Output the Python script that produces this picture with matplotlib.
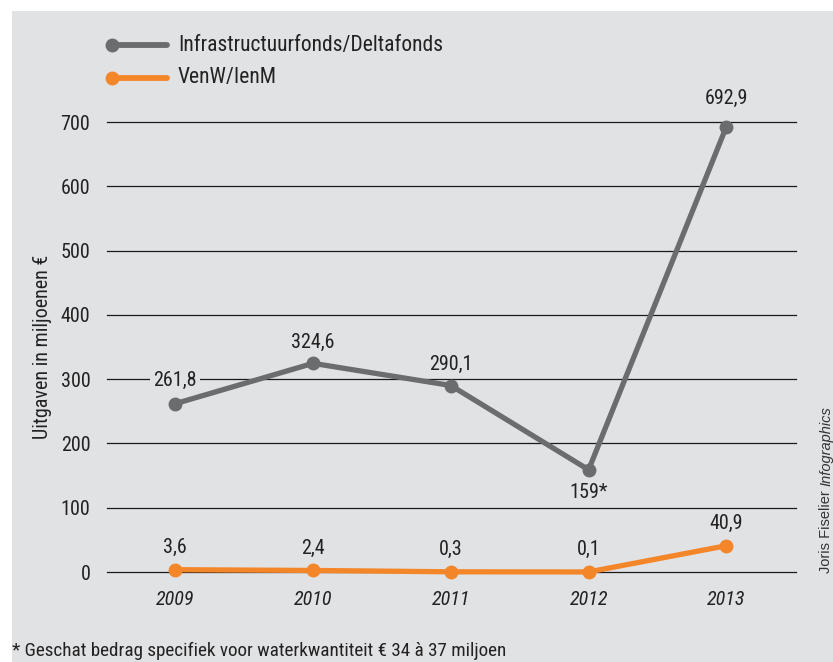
import matplotlib.pyplot as plt
from matplotlib.lines import Line2D
from matplotlib.patches import Rectangle

plt.rcParams['font.family'] = ['Roboto Condensed', 'DejaVu Sans']

years = ['2009', '2010', '2011', '2012', '2013']
infra = [261.8, 324.6, 290.1, 159, 692.9]
venw = [3.6, 2.4, 0.3, 0.1, 40.9]
infra_labels = ['261,8', '324,6', '290,1', '159*', '692,9']
venw_labels = ['3,6', '2,4', '0,3', '0,1', '40,9']

bg = '#e1e2e4'
grey = '#6b6c6e'
orange = '#f4862a'
W, H = 833, 662

fig = plt.figure(figsize=(8.33, 6.62), dpi=100)
fig.patch.set_facecolor('white')
# grey panel
fig.add_artist(Rectangle((12 / W, 0), 1, 1 - 11 / H, transform=fig.transFigure,
                         facecolor=bg, edgecolor='none', zorder=0))

ax = fig.add_axes([107 / W, 1 - 572 / H, (796 - 107) / W, (572 - 122) / H])
ax.set_facecolor('none')
for s in ax.spines.values():
    s.set_visible(False)

x = list(range(len(years)))
ax.set_xlim(-0.495, 4.505)
ax.set_ylim(0, 700)
ax.set_yticks(range(0, 701, 100))
ax.yaxis.grid(True, color='#1a1a1a', lw=0.9)
for gl in ax.get_ygridlines():
    gl.set_clip_on(False)
ax.set_axisbelow(True)
ax.tick_params(length=0, labelsize=14.5, colors='#222222')
ax.tick_params(axis='y', pad=12)
ax.tick_params(axis='x', pad=13)
ax.set_xticks(x)
ax.set_xticklabels(years, fontstyle='italic')
ax.set_ylabel('Uitgaven in miljoenen €', fontsize=14.5, color='#222222', labelpad=6)

ax.plot(x, infra, color=grey, lw=3.8, marker='o', ms=9, clip_on=False, zorder=3)
ax.plot(x, venw, color=orange, lw=3.8, marker='o', ms=9, clip_on=False, zorder=3)

infra_off = [17, 15, 15, -16, 20]
for xi, v, lab, off in zip(x, infra, infra_labels, infra_off):
    ax.annotate(lab, (xi, v), xytext=(0, off), textcoords='offset points',
                ha='center', va='center', fontsize=14.5, color='#222222',
                bbox=dict(boxstyle='square,pad=0.15', fc=bg, ec='none'), zorder=4)
for xi, v, lab in zip(x, venw, venw_labels):
    ax.annotate(lab, (xi, v), xytext=(0, 16), textcoords='offset points',
                ha='center', va='center', fontsize=14.5, color='#222222', zorder=4)

# legend
for yy, col, lab in [(45, grey, 'Infrastructuurfonds/Deltafonds'), (78, orange, 'VenW/IenM')]:
    fig.add_artist(Line2D([112 / W, 167 / W], [1 - yy / H] * 2, color=col, lw=4.2,
                          solid_capstyle='round', transform=fig.transFigure))
    fig.add_artist(Line2D([112 / W], [1 - yy / H], color=col, marker='o', ms=9,
                          transform=fig.transFigure))
    fig.text(178 / W, 1 - yy / H, lab, fontsize=15.5, va='center', ha='left', color='#222222')

fig.text(12 / W, 1 - 651 / H, '* Geschat bedrag specifiek voor waterkwantiteit € 34 à 37 miljoen',
         fontsize=13.8, va='center', ha='left', color='#222222')

# credit
t1 = fig.text(826 / W, 1 - 573 / H, 'Joris Fiselier', family='Liberation Sans',
              fontsize=10.5, rotation=90, ha='center', va='bottom', color='#333333')
ax.annotate('Infographics', xy=(0.5, 1), xycoords=t1, xytext=(0, 3),
            textcoords='offset points', family='Liberation Sans', fontsize=10.5,
            fontstyle='italic', rotation=90, ha='center', va='bottom', color='#333333',
            annotation_clip=False)

fig.savefig('out.png', dpi=100)
